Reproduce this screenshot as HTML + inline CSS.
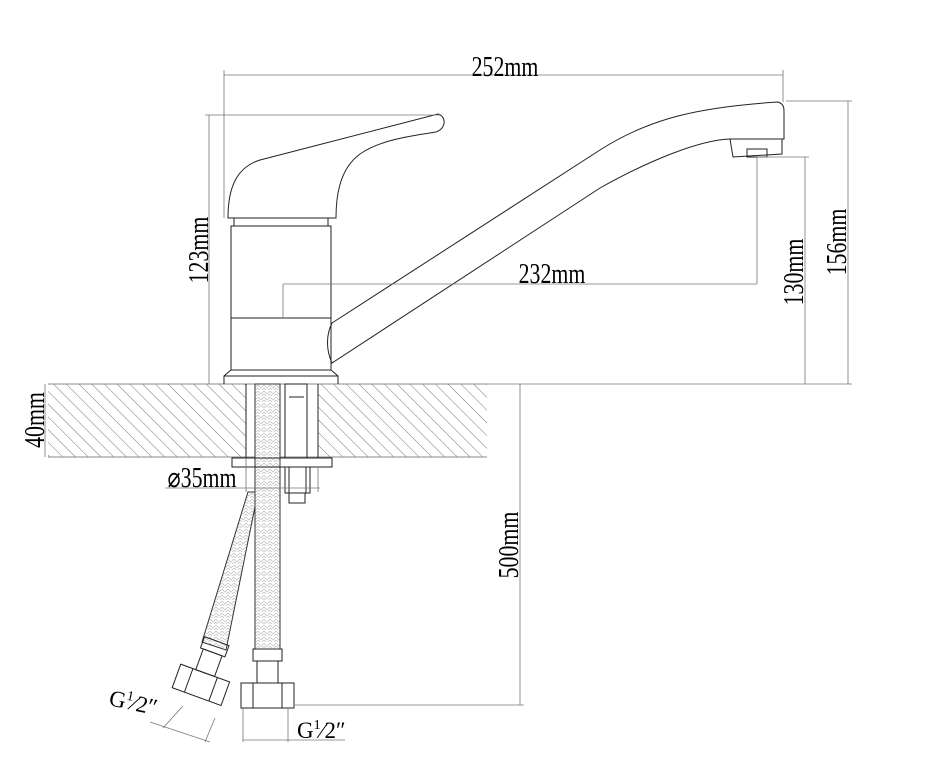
<!DOCTYPE html>
<html><head><style>
html,body{margin:0;padding:0;background:#fff;}
svg{display:block}
text{font-family:"Liberation Serif",serif;fill:#000;}
</style></head><body>
<svg width="928" height="760" viewBox="0 0 928 760" xmlns="http://www.w3.org/2000/svg">
<defs>
<pattern id="hatch" width="9" height="9" patternUnits="userSpaceOnUse" patternTransform="rotate(-45)">
<line x1="0" y1="0" x2="0" y2="9" stroke="#555" stroke-width="0.8"/>
</pattern>
<pattern id="braid" width="6" height="6" patternUnits="userSpaceOnUse">
<path d="M0 1 L3 4 L6 1 M0 4 L3 7 L6 4" fill="none" stroke="#bbb" stroke-width="0.7"/>
</pattern>
</defs>
<g fill="none" stroke="#222" stroke-width="1">
<rect x="48" y="384" width="198" height="73" fill="url(#hatch)" stroke="none"/>
<rect x="318" y="384" width="169" height="73" fill="url(#hatch)" stroke="none"/>
<line x1="48" y1="384" x2="487" y2="384" stroke="#888"/>
<line x1="48" y1="457" x2="487" y2="457" stroke="#888"/>
<line x1="246" y1="384" x2="246" y2="458"/>
<line x1="318" y1="384" x2="318" y2="458"/>
<path d="M248 492 L258 492 L226 650 L202 642 Z" fill="url(#braid)" stroke="#333"/>
<rect x="255" y="384" width="25" height="265" fill="#fff" stroke="none"/>
<rect x="255" y="384" width="25" height="265" fill="url(#braid)" stroke="#333"/>
<rect x="285" y="384" width="22" height="74" />
<line x1="289" y1="397" x2="304" y2="397"/>
<rect x="232" y="458" width="100" height="9"/>
<rect x="285" y="467" width="25" height="26"/>
<line x1="289" y1="467" x2="289" y2="493"/><line x1="306" y1="467" x2="306" y2="493"/>
<rect x="289" y="493" width="16" height="10"/>
<rect x="253" y="649" width="29" height="12"/>
<rect x="257" y="661" width="21" height="22"/>
<path d="M241 683 H294 V708 H241 Z"/>
<line x1="253" y1="683" x2="253" y2="708"/><line x1="282" y1="683" x2="282" y2="708"/>
<g transform="translate(199,690) rotate(20)">
<rect x="-13" y="-52" width="26" height="12"/>
<rect x="-10" y="-40" width="20" height="22"/>
<rect x="-26" y="-18" width="52" height="25"/>
<line x1="-13" y1="-18" x2="-13" y2="7"/><line x1="13" y1="-18" x2="13" y2="7"/>
</g>
<path d="M228 218 C228 185 238 167 260 160 L438 114 C446 116 447 128 436 132 C410 136 380 140 360 154 C338 170 336 200 336 218 Z"/>
<rect x="234" y="218" width="94" height="8"/>
<rect x="231" y="226" width="100" height="144"/>
<line x1="231" y1="318" x2="331" y2="318"/>
<path d="M231 370 L224 376 V384 M331 370 L338 376 V384 M224 376 H338"/>
<path d="M332 323 L600 150 C650 118 700 107 778 102 C784 104 784 108 784 112 L784 139 L730 139 C700 140 650 160 600 188 L332 363 C326 350 326 335 332 323"/>
<path d="M730 139 L733 157 L782 154 L782 139"/>
<rect x="747" y="149" width="20" height="8"/>
</g>
<g stroke="#777" stroke-width="0.8" fill="none">
<line x1="224" y1="75" x2="783" y2="75"/>
<line x1="224" y1="70" x2="224" y2="218"/>
<line x1="783" y1="70" x2="783" y2="102"/>
<line x1="209" y1="115" x2="209" y2="384"/>
<line x1="205" y1="115" x2="440" y2="115"/>
<line x1="786" y1="101" x2="852" y2="101"/>
<line x1="848" y1="101" x2="848" y2="384"/>
<line x1="757" y1="157" x2="809" y2="157"/>
<line x1="805" y1="157" x2="805" y2="384"/>
<line x1="487" y1="384" x2="852" y2="384"/>
<line x1="757" y1="157" x2="757" y2="284"/>
<line x1="283" y1="284" x2="757" y2="284"/>
<line x1="283" y1="284" x2="283" y2="318"/>
<line x1="45" y1="384" x2="45" y2="457"/>
<line x1="520" y1="384" x2="520" y2="705"/>
<line x1="294" y1="705" x2="524" y2="705"/>
<line x1="165" y1="488" x2="320" y2="488"/>
<line x1="246" y1="458" x2="246" y2="492"/>
<line x1="318" y1="468" x2="318" y2="492"/>
<line x1="243" y1="708" x2="243" y2="742"/>
<line x1="288" y1="708" x2="288" y2="742"/>
<line x1="243" y1="740" x2="345" y2="740"/>
<line x1="183" y1="706" x2="163" y2="728"/>
<line x1="215" y1="718" x2="205" y2="742"/>
<line x1="150" y1="722" x2="210" y2="742"/>
</g>
<g font-size="28">
<text x="505" y="76" text-anchor="middle" transform="translate(505 0) scale(0.78 1) translate(-505 0)">252mm</text>
<text x="552" y="283" text-anchor="middle" transform="translate(552 0) scale(0.78 1) translate(-552 0)">232mm</text>
<text transform="translate(208 250) rotate(-90) scale(0.78 1)" text-anchor="middle">123mm</text>
<text transform="translate(803 272) rotate(-90) scale(0.78 1)" text-anchor="middle">130mm</text>
<text transform="translate(846 242) rotate(-90) scale(0.78 1)" text-anchor="middle">156mm</text>
<text transform="translate(44 420) rotate(-90) scale(0.78 1)" text-anchor="middle">40mm</text>
<text transform="translate(518 545) rotate(-90) scale(0.78 1)" text-anchor="middle">500mm</text>
<text x="202" y="487" text-anchor="middle" transform="translate(202 0) scale(0.78 1) translate(-202 0)">⌀35mm</text>
<text x="297" y="738" font-size="23">G<tspan font-size="14" dy="-9">1</tspan><tspan dy="9">⁄2″</tspan></text>
<text transform="translate(108 705) rotate(12)" font-size="23">G<tspan font-size="14" dy="-9">1</tspan><tspan dy="9">⁄2″</tspan></text>
</g>
</svg>
</body></html>
